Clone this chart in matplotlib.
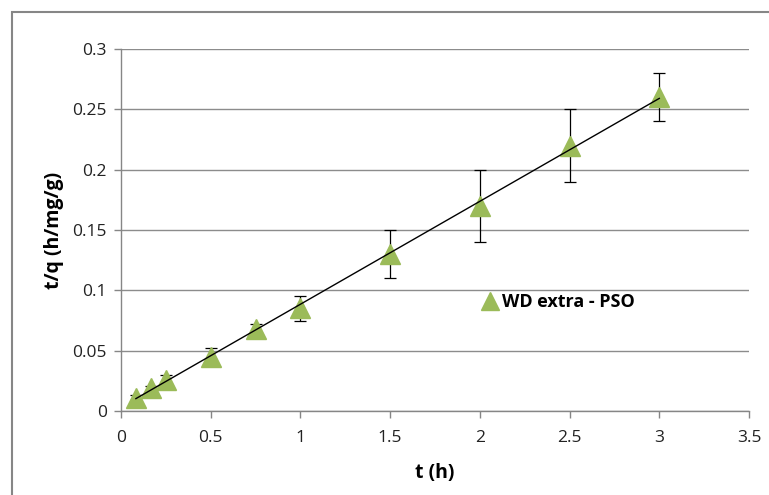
import numpy as np
import matplotlib
matplotlib.use("Agg")
import matplotlib.pyplot as plt
from matplotlib.patches import Rectangle

t_hours = [0.083, 0.167, 0.25, 0.5, 0.75, 1.0, 1.5, 2.0, 2.5, 3.0]
t_over_q = [0.011, 0.019, 0.026, 0.045, 0.068, 0.085, 0.130, 0.170, 0.220, 0.260]
err = [0.002, 0.002, 0.004, 0.007, 0.004, 0.010, 0.020, 0.030, 0.030, 0.020]
x_ticks = [0, 0.5, 1, 1.5, 2, 2.5, 3, 3.5]
x_tick_labels = ["0", "0.5", "1", "1.5", "2", "2.5", "3", "3.5"]
y_ticks = [0, 0.05, 0.1, 0.15, 0.2, 0.25, 0.3]
y_tick_labels = ["0", "0.05", "0.1", "0.15", "0.2", "0.25", "0.3"]
series_label = "WD extra - PSO"

plt.rcParams['font.family'] = ['Open Sans', 'DejaVu Sans']

W, H = 769, 495
fig = plt.figure(figsize=(W / 100, H / 100), dpi=100)
ax = fig.add_axes([121 / W, 1 - 411 / H, (749 - 121) / W, (411 - 49) / H])

fig.patches.append(Rectangle((12 / W, -0.1), 1.2, 1.1 - 12 / H,
                             transform=fig.transFigure, fill=False,
                             edgecolor='#868686', linewidth=1.5))

green = '#9BBB59'
x = np.array(t_hours)
y = np.array(t_over_q)

ax.errorbar(x, y, yerr=err, fmt='none', ecolor='black', elinewidth=0.9,
            capsize=4, capthick=0.9, zorder=2)
ax.plot(x, y, linestyle='none', marker='^', markersize=15, color=green,
        markeredgecolor=green, zorder=3, label=series_label)

coef = np.polyfit(x, y, 1)
xf = np.array([x.min(), x.max()])
ax.plot(xf, np.polyval(coef, xf), color='black', linewidth=1.0, zorder=4)

ax.set_xlim(0, 3.5)
ax.set_ylim(0, 0.3)
ax.set_xticks(x_ticks)
ax.set_xticklabels(x_tick_labels)
ax.set_yticks(y_ticks)
ax.set_yticklabels(y_tick_labels)
ax.tick_params(axis='both', labelsize=12.5, colors='#868686', labelcolor='#222222',
               length=5, width=1, direction='out')
ax.tick_params(axis='x', pad=9)
ax.tick_params(axis='y', pad=5)
ax.grid(axis='y', color='#8c8c8c', linewidth=1)
ax.set_axisbelow(True)
for s in ['top', 'right']:
    ax.spines[s].set_visible(False)
for s in ['left', 'bottom']:
    ax.spines[s].set_color('#868686')
    ax.spines[s].set_linewidth(1)

ax.set_xlabel('t (h)', fontsize=14, fontweight='bold', labelpad=12)
ax.set_ylabel('t/q (h/mg/g)', fontsize=14, fontweight='bold', labelpad=6)

leg = ax.legend(loc='center left', bbox_to_anchor=(0.55, 0.30), frameon=False,
                handlelength=0.8, handletextpad=0.25, markerscale=0.85,
                prop={'size': 13, 'weight': 'bold'})

fig.savefig('out.png', dpi=100)
